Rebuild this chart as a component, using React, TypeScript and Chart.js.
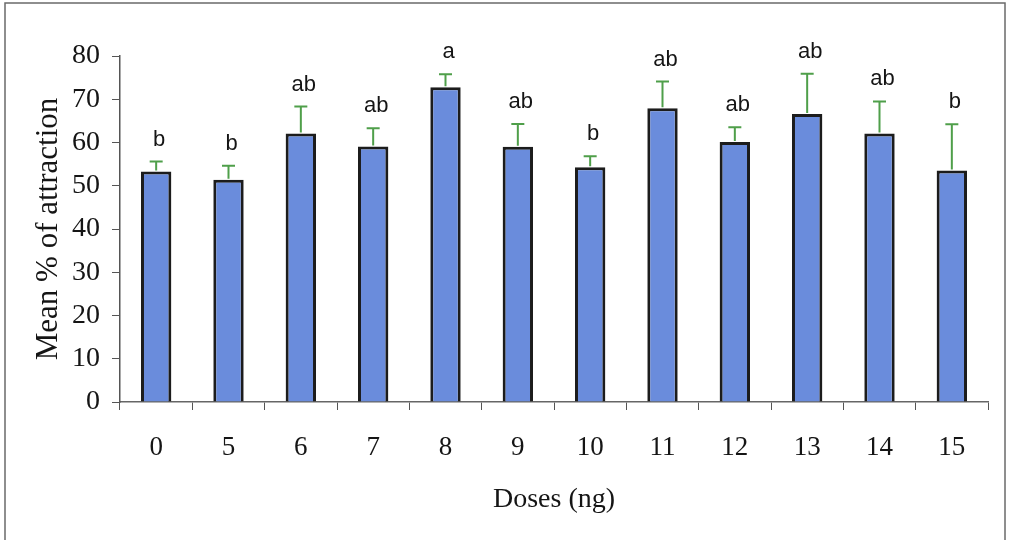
import React, { useEffect, useRef } from "react";
import { Chart, registerables } from "chart.js";

Chart.register(...registerables);

const doses = ["0", "5", "6", "7", "8", "9", "10", "11", "12", "13", "14", "15"];
const means = [53.3, 51.4, 62.1, 59.1, 72.8, 59.0, 54.3, 67.9, 60.1, 66.6, 62.1, 53.5];
const errors = [2.3, 3.2, 6.2, 4.2, 3.0, 5.3, 2.5, 6.2, 3.4, 9.3, 7.4, 10.7];
const letters = ["b", "b", "ab", "ab", "a", "ab", "b", "ab", "ab", "ab", "ab", "b"];
const yTicks = [0, 10, 20, 30, 40, 50, 60, 70, 80];

const SERIF = "'Liberation Serif', 'Times New Roman', serif";
const SANS = "'Liberation Sans', Arial, sans-serif";

const framePlugin = {
  id: "frame",
  beforeDraw(chart: any) {
    const { ctx, width, height } = chart;
    ctx.save();
    ctx.fillStyle = "#ffffff";
    ctx.fillRect(0, 0, width, height);
    ctx.strokeStyle = "#6a6a6a";
    ctx.lineWidth = 1.5;
    ctx.strokeRect(5, 3, 1000, 600);
    ctx.restore();
  },
};

const errorPlugin = {
  id: "errorBars",
  afterDatasetsDraw(chart: any) {
    const { ctx } = chart;
    const yScale = chart.scales.y;
    const meta = chart.getDatasetMeta(0);
    ctx.save();
    meta.data.forEach((bar: any, i: number) => {
      const x = bar.x;
      const yBar = yScale.getPixelForValue(means[i]);
      const yTop = yScale.getPixelForValue(means[i] + errors[i]);
      ctx.strokeStyle = "#4f9f4a";
      ctx.lineWidth = 2;
      ctx.beginPath();
      ctx.moveTo(x, yBar - 1);
      ctx.lineTo(x, yTop);
      ctx.moveTo(x - 6.5, yTop);
      ctx.lineTo(x + 6.5, yTop);
      ctx.stroke();
      ctx.fillStyle = "#151515";
      ctx.font = `22px ${SANS}`;
      ctx.textAlign = "center";
      ctx.textBaseline = "alphabetic";
      ctx.fillText(letters[i], x + 3, yTop - 16);
    });
    ctx.restore();
  },
};

export default function App() {
  const ref = useRef<HTMLCanvasElement | null>(null);

  useEffect(() => {
    if (!ref.current) return;
    const chart = new Chart(ref.current, {
      type: "bar",
      data: {
        labels: doses,
        datasets: [
          {
            data: means,
            backgroundColor: "#6a8cdc",
            borderColor: "#1c1c1c",
            borderWidth: 3,
            categoryPercentage: 1,
            barPercentage: 0.42,
          },
        ],
      },
      options: {
        animation: false,
        responsive: true,
        maintainAspectRatio: false,
        layout: { padding: { left: 0, top: 56, right: 21, bottom: 0 } },
        plugins: {
          legend: { display: false },
          tooltip: { enabled: false },
        },
        scales: {
          x: {
            afterFit: (s: any) => {
              s.height = 138;
            },
            grid: {
              display: true,
              drawOnChartArea: false,
              drawTicks: true,
              tickLength: 8,
              color: "#555",
              lineWidth: 1,
              offset: true,
            },
            border: { display: true, color: "#666", width: 1.5 },
            ticks: {
              color: "#151515",
              font: { family: SERIF, size: 27 },
              padding: 22,
              maxRotation: 0,
            },
            title: {
              display: true,
              text: "Doses (ng)",
              color: "#151515",
              font: { family: SERIF, size: 28 },
              padding: { top: 0, bottom: 24 },
            },
          },
          y: {
            min: 0,
            max: 80,
            afterFit: (s: any) => {
              s.width = 120;
            },
            afterBuildTicks: (s: any) => {
              s.ticks = yTicks.map((v) => ({ value: v }));
            },
            grid: {
              display: true,
              drawOnChartArea: false,
              drawTicks: true,
              tickLength: 8,
              color: "#555",
              lineWidth: 1,
            },
            border: { display: true, color: "#555", width: 1.5 },
            ticks: {
              color: "#151515",
              font: { family: SERIF, size: 28 },
              padding: 12,
            },
            title: {
              display: true,
              text: "Mean % of attraction",
              color: "#151515",
              font: { family: SERIF, size: 31 },
              padding: { top: 30, bottom: 0 },
            },
          },
        },
      },
      plugins: [framePlugin, errorPlugin],
    });
    return () => chart.destroy();
  }, []);

  return (
    <div style={{ position: "absolute", left: 0, top: 0, width: 1009, height: 540 }}>
      <canvas ref={ref} />
    </div>
  );
}
